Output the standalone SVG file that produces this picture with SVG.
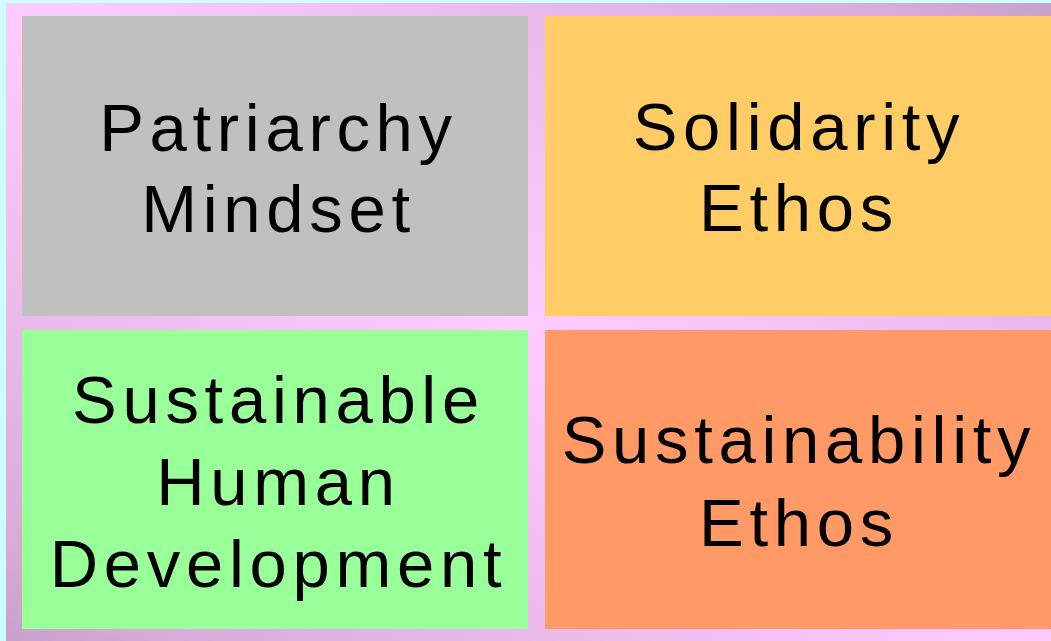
<svg xmlns="http://www.w3.org/2000/svg" width="1051" height="641" viewBox="0 0 1051 641">
<defs>
<linearGradient id="bg" x1="0.5" y1="0.5" x2="1" y2="0" spreadMethod="reflect">
<stop offset="0" stop-color="#ffccff"/>
<stop offset="0.45" stop-color="#ecbbec"/>
<stop offset="0.85" stop-color="#d8aad8"/>
<stop offset="1" stop-color="#c8a0cc"/>
</linearGradient>
</defs>
<style>
text{font-family:"Liberation Sans",Arial,sans-serif;font-size:67px;letter-spacing:5.7px;fill:#000;text-anchor:middle}
</style>
<rect x="0" y="0" width="1051" height="641" fill="#ccffff"/>
<rect x="6" y="3" width="1045" height="638" fill="url(#bg)"/>
<g id="patriarchy">
<rect x="22" y="16" width="506" height="300" fill="#c0c0c0"/>
<text x="278.5" y="150.5">Patriarchy</text>
<text x="278.5" y="231.5">Mindset</text>
</g>
<g id="solidarity">
<rect x="545" y="16" width="506" height="300" fill="#ffcc66"/>
<text x="799" y="150">Solidarity</text>
<text x="799" y="231">Ethos</text>
</g>
<g id="human-development">
<rect x="22" y="330" width="506" height="299" fill="#99ff99"/>
<text x="278.5" y="422.7">Sustainable</text>
<text x="278.5" y="505">Human</text>
<text x="278.5" y="586.7">Development</text>
</g>
<g id="sustainability">
<rect x="545" y="330" width="506" height="299" fill="#ff9966"/>
<text x="799" y="463.3">Sustainability</text>
<text x="799" y="545.7">Ethos</text>
</g>
<g id="connectors"/>
</svg>
